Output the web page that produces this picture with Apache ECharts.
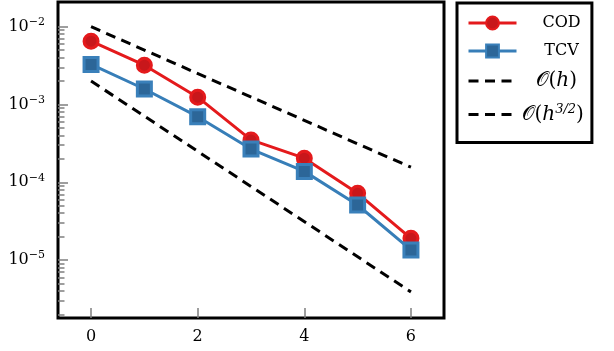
<!DOCTYPE html>
<html>
<head>
<meta charset="utf-8">
<script src="https://cdn.jsdelivr.net/npm/echarts@6/dist/echarts.min.js"></script>
<style>
  html, body { margin: 0; padding: 0; background: #fff; }
  #chart { width: 614px; height: 351px; }
</style>
</head>
<body>
<div id="chart"></div>
<script>
// refinement step
const steps = [0, 1, 2, 3, 4, 5, 6]
// errors
const cod = [6.5e-3, 3.2e-3, 1.24e-3, 3.5e-4, 2.04e-4, 7.2e-5, 1.9e-5]
const tcv = [3.27e-3, 1.58e-3, 6.97e-4, 2.67e-4, 1.38e-4, 5.1e-5, 1.35e-5]
// reference slopes (end points)
const refSteps = [0, 6]
const orderH = [1e-2, 1.56e-4]
const orderH32 = [2e-3, 3.9e-6]

const xTicks = [0, 2, 4, 6]
const yMajor = [1e-5, 1e-4, 1e-3, 1e-2]
const yMinor = []
for (const d of [1e-6, 1e-5, 1e-4, 1e-3]) {
  for (let k = 2; k <= 9; k++) yMinor.push(+(k * d).toPrecision(3))
}

const serif = 'DejaVu Serif'
const tickGray = '#7f7f7f'
const dash = [10, 6.5]

const pair = (xs, ys) => xs.map((x, i) => [x, ys[i]])

const chart = echarts.init(document.getElementById('chart'))

const yBase = {
  type: 'log',
  logBase: 10,
  min: 1.8e-6,
  max: 0.02075,
  position: 'left',
  axisLine: { show: false, onZero: false },
  splitLine: { show: false },
  minorTick: { show: false }
}

chart.setOption({
  animation: false,
  grid: {
    left: 58, top: 2, width: 386, height: 316,
    show: true, borderColor: '#000', borderWidth: 3, backgroundColor: 'transparent'
  },
  legend: {
    orient: 'vertical',
    left: 457, top: 3,
    width: 155,
    padding: [12, 8, 18, 10],
    borderColor: '#000', borderWidth: 3,
    itemWidth: 48, itemHeight: 16, itemGap: 12,
    lineStyle: { width: 'inherit' },
    data: [
      'COD', 'TCV',
      { name: 'O(h)', itemStyle: { opacity: 0 } },
      { name: 'O(h3/2)', itemStyle: { opacity: 0 } }
    ],
    formatter: name => {
      if (name === 'O(h)') return '{p|}{c|𝒪(}{i|h}{c|)}'
      if (name === 'O(h3/2)') return '{c|𝒪(}{i|h}{s|3/2}{c|)}'
      return '{t|' + name + '}'
    },
    textStyle: {
      fontFamily: serif, fontSize: 16, color: '#000',
      rich: {
        t: { fontFamily: serif, fontSize: 16, color: '#000', width: 80, align: 'center' },
        p: { width: 14 },
        c: { fontFamily: serif, fontSize: 20, color: '#000' },
        i: { fontFamily: serif, fontSize: 20, fontStyle: 'italic', color: '#000' },
        s: { fontFamily: serif, fontSize: 13, fontStyle: 'italic', color: '#000', verticalAlign: 'top', padding: [0, 0, 10, 0] }
      }
    }
  },
  xAxis: {
    type: 'value',
    min: -0.62, max: 6.62,
    axisLine: { show: false, onZero: false },
    splitLine: { show: false },
    axisTick: { inside: true, length: 10, customValues: xTicks, lineStyle: { color: tickGray, width: 1.5 } },
    axisLabel: { customValues: xTicks, margin: 11, fontFamily: serif, fontSize: 16, color: '#000' }
  },
  yAxis: [
    Object.assign({}, yBase, {
      axisTick: { inside: true, length: 10, customValues: yMajor, lineStyle: { color: tickGray, width: 1.5 } },
      axisLabel: {
        customValues: yMajor, margin: 13,
        formatter: v => '{b|10}{s|−' + Math.round(-Math.log10(v)) + '}',
        rich: {
          b: { fontFamily: serif, fontSize: 16, color: '#000' },
          s: { fontFamily: serif, fontSize: 11, color: '#000', verticalAlign: 'top', padding: [0, 0, 9, 0] }
        }
      }
    }),
    Object.assign({}, yBase, {
      axisTick: { inside: true, length: 6.5, customValues: yMinor, lineStyle: { color: tickGray, width: 1.5 } },
      axisLabel: { show: false }
    })
  ],
  series: [
    {
      name: 'COD', type: 'line', data: pair(steps, cod), z: 4,
      symbol: 'circle', symbolSize: 14,
      lineStyle: { color: '#e41a1c', width: 3 },
      itemStyle: { color: '#c8171b', borderColor: '#e41a1c', borderWidth: 3 }
    },
    {
      name: 'TCV', type: 'line', data: pair(steps, tcv), z: 5,
      symbol: 'rect', symbolSize: 14,
      lineStyle: { color: '#377eb8', width: 3 },
      itemStyle: { color: '#2c6698', borderColor: '#3a80ba', borderWidth: 3 }
    },
    {
      name: 'O(h)', type: 'line', data: pair(refSteps, orderH), symbol: 'none', z: 3,
      lineStyle: { color: '#000', width: 3, type: dash },
      itemStyle: { color: '#000' }
    },
    {
      name: 'O(h3/2)', type: 'line', data: pair(refSteps, orderH32), symbol: 'none', z: 3,
      lineStyle: { color: '#000', width: 3, type: dash },
      itemStyle: { color: '#000' }
    }
  ]
})
</script>
</body>
</html>
